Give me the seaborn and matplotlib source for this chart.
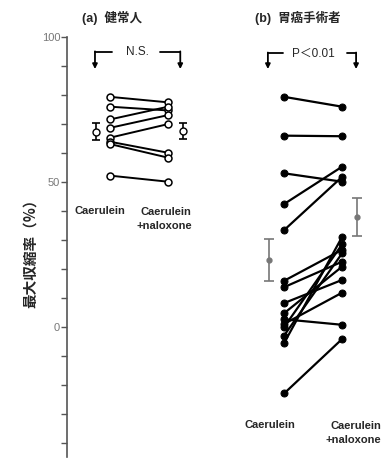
import matplotlib
matplotlib.use("Agg")
import matplotlib.pyplot as plt
import seaborn as sns
import pandas as pd

# (a) healthy subjects
a_caerulein = [79.4, 76.0, 71.6, 68.7, 65.3, 63.9, 63.1, 52.2]
a_naloxone = [77.5, 74.7, 76.0, 73.1, 70.0, 60.1, 58.4, 50.1]
a_mean = [67.4, 67.6]
a_err = [2.8, 2.8]

# (b) gastric cancer surgery patients
b_caerulein = [79.4, 66.0, 53.0, 42.4, 33.4, 15.9, 13.7, 8.2, 4.7, 2.6, 1.0, -0.1, -3.0, -5.6, -23.0]
b_naloxone = [76.0, 65.8, 50.1, 55.3, 51.8, 26.6, 22.5, 16.2, 20.8, 0.7, 11.8, 28.5, 25.4, 31.1, -4.2]
b_mean = [23.1, 38.0]
b_err = [7.2, 6.5]

ticks = list(range(-40, 101, 10))
tick_labels = ["0" if t == 0 else str(t) if t in (50, 100) else "" for t in ticks]

sns.set_style("white")
plt.rcParams['font.family'] = ['Liberation Sans', 'Noto Sans CJK JP', 'DejaVu Sans']


def long_df(left, right, x0):
    rows = []
    for i, (l, r) in enumerate(zip(left, right)):
        rows.append({'id': i, 'x': x0, 'v': l})
        rows.append({'id': i, 'x': x0 + 1, 'v': r})
    return pd.DataFrame(rows)


df_a = long_df(a_caerulein, a_naloxone, 1)
df_b = long_df(b_caerulein, b_naloxone, 4)

fig = plt.figure(figsize=(3.88, 4.59), dpi=100)
ax = fig.add_axes([0.173, 0.004, 0.827, 0.915])

sns.lineplot(data=df_a, x='x', y='v', units='id', estimator=None, ax=ax,
             color='black', lw=1.4, marker='o', markersize=5,
             markerfacecolor='white', markeredgecolor='black', markeredgewidth=1.1)
sns.lineplot(data=df_b, x='x', y='v', units='id', estimator=None, ax=ax,
             color='black', lw=1.6, marker='o', markersize=5,
             markerfacecolor='black', markeredgecolor='black')

# mean +- error
ax.errorbar([0.76, 2.26], a_mean, yerr=a_err, fmt='o', color='black',
            mfc='white', ms=5, capsize=3, lw=1.2, capthick=1.2)
ax.errorbar([3.74, 5.26], b_mean, yerr=b_err, fmt='o', color='#777777',
            mfc='#777777', ms=3.5, capsize=3.5, lw=1.2, capthick=1.2)

ax.set_xlim(0.26, 5.79)
ax.set_ylim(-45, 100)
ax.set_yticks(ticks)
ax.set_yticklabels(tick_labels, fontsize=8, color='#777777')
ax.tick_params(axis='y', direction='out', length=4, width=1, color='#555555', left=True, pad=1)
ax.set_xticks([])
ax.set_xlabel('')
ax.set_ylabel('')
for s in ['top', 'right', 'bottom']:
    ax.spines[s].set_visible(False)
ax.spines['left'].set_color('#555555')
ax.spines['left'].set_linewidth(1.2)

# panel titles
ax.text(1.03, 106.6, '(a)  健常人', ha='center', va='center', fontsize=9,
        fontweight='bold', clip_on=False)
ax.text(4.23, 106.6, '(b)  胃癌手術者', ha='center', va='center', fontsize=9,
        fontweight='bold', clip_on=False)

# significance brackets
def bracket(x1, x2, x3, x4, xt, y, tip, label):
    ax.plot([x1, x2], [y, y], color='black', lw=1.3)
    ax.plot([x3, x4], [y, y], color='black', lw=1.3)
    for xx in (x1, x4):
        ax.annotate('', xy=(xx, tip), xytext=(xx, y + 0.3),
                    arrowprops=dict(arrowstyle='-|>', color='black', lw=1.3,
                                    mutation_scale=7, shrinkA=0, shrinkB=0))
    ax.text(xt, y, label, ha='center', va='center', fontsize=8.5,
            family=['Liberation Sans', 'Noto Sans CJK JP'])

bracket(0.74, 1.03, 1.86, 2.21, 1.47, 94.8, 89.0, 'N.S.')
bracket(3.72, 3.98, 5.09, 5.24, 4.5, 94.4, 89.0, 'P＜0.01')

# condition labels
lab = dict(ha='center', va='center', fontsize=8, fontweight='bold')
ax.text(0.83, 40, 'Caerulein', **lab)
ax.text(1.93, 37.2, 'Caerulein\n+naloxone', multialignment='right', linespacing=1.45, **lab)
ax.text(3.76, -33.8, 'Caerulein', **lab)
ax.text(5.19, -36.6, 'Caerulein\n+naloxone', multialignment='right', linespacing=1.45, **lab)

fig.text(0.078, 0.455, '最大収縮率（%）', rotation=90, ha='center', va='center',
         fontsize=10.5, fontweight='bold', family=['Noto Sans CJK JP', 'DejaVu Sans'])

plt.savefig("out.png", dpi=100)
plt.close()
